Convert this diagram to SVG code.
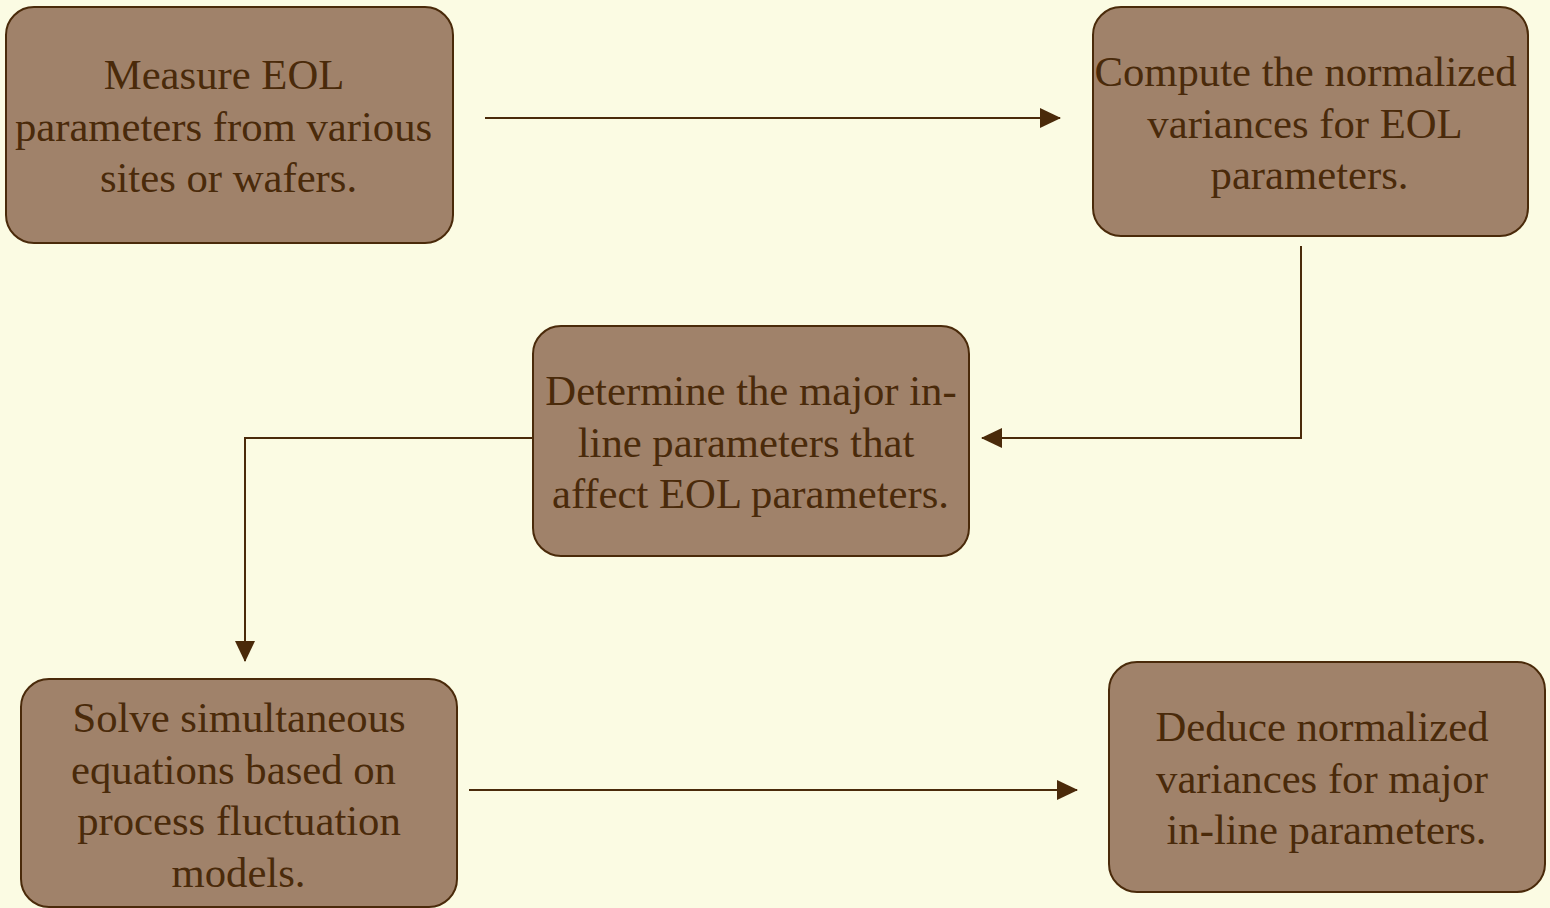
<svg xmlns="http://www.w3.org/2000/svg" width="1550" height="908" viewBox="0 0 1550 908">
<style>
.box{fill:#a0826a;stroke:#4a2a0a;stroke-width:2}
.t{font-family:"Liberation Serif","Times New Roman",serif;font-size:42.7px;fill:#4a2a0a;text-anchor:middle}
.c{fill:none;stroke:#4a2a0a;stroke-width:2}
</style>
<defs>
<marker id="ah" markerUnits="userSpaceOnUse" viewBox="0 0 21 20" markerWidth="21" markerHeight="20" refX="20" refY="10" orient="auto">
<path d="M0,0 L21,10 L0,20 z" fill="#4a2a0a"/>
</marker>
</defs>
<rect width="1550" height="908" fill="#fbfbe3"/>
<g id="connectors">
<path class="c" d="M485,118 H1060" marker-end="url(#ah)"/>
<path class="c" d="M1301,246 V438 H982" marker-end="url(#ah)"/>
<path class="c" d="M533,438 H245 V661" marker-end="url(#ah)"/>
<path class="c" d="M469,790 H1077" marker-end="url(#ah)"/>
</g>
<g id="n1">
<rect class="box" x="6" y="7" width="447" height="236" rx="28"/>
<text class="t"><tspan x="224" y="89">Measure EOL</tspan><tspan x="223.5" y="140.5">parameters from various</tspan><tspan x="228.5" y="192">sites or wafers.</tspan></text>
</g>
<g id="n2">
<rect class="box" x="1093" y="7" width="435" height="229" rx="28"/>
<text class="t"><tspan x="1305.5" y="86">Compute the normalized</tspan><tspan x="1305" y="137.5">variances for EOL</tspan><tspan x="1309.5" y="189">parameters.</tspan></text>
</g>
<g id="n3">
<rect class="box" x="533" y="326" width="436" height="230" rx="28"/>
<text class="t"><tspan x="751" y="405">Determine the major in-</tspan><tspan x="746" y="456.5">line parameters that</tspan><tspan x="750.5" y="508">affect EOL parameters.</tspan></text>
</g>
<g id="n4">
<rect class="box" x="21" y="679" width="436" height="228" rx="28"/>
<text class="t"><tspan x="239" y="732">Solve simultaneous</tspan><tspan x="233.5" y="783.5">equations based on</tspan><tspan x="239" y="835">process fluctuation</tspan><tspan x="238.5" y="886.5">models.</tspan></text>
</g>
<g id="n5">
<rect class="box" x="1109" y="662" width="436" height="230" rx="28"/>
<text class="t"><tspan x="1322" y="741">Deduce normalized</tspan><tspan x="1322" y="792.5">variances for major</tspan><tspan x="1326.5" y="844">in-line parameters.</tspan></text>
</g>
</svg>
